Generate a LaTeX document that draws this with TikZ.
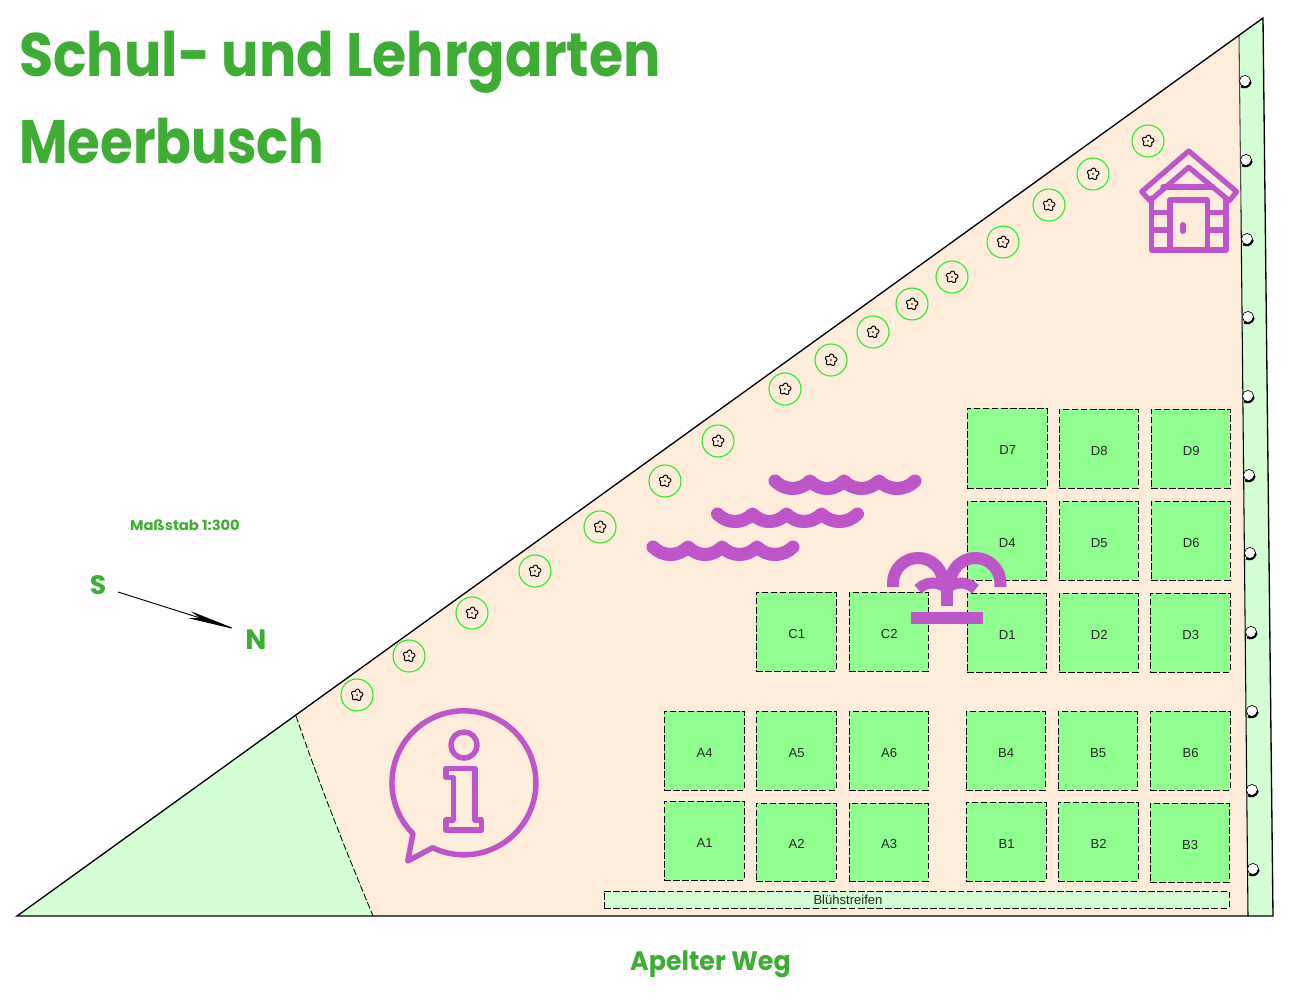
\documentclass[tikz,border=0pt]{standalone}
\usepackage{fontspec}
\usetikzlibrary{arrows.meta}
\setmainfont{Liberation Sans}
\newfontfamily\comicfont{Poppins}
\definecolor{ttl}{HTML}{3DAE33}
\definecolor{purp}{HTML}{BE55C8}
\definecolor{bedg}{HTML}{90FF90}
\definecolor{lightg}{HTML}{D4FFD4}
\definecolor{sand}{HTML}{FFEDDB}
\definecolor{ringg}{HTML}{22EE22}
\newcommand{\bedbox}[5]{%
  \pgfmathsetmacro{\bw}{(#4-#2)*.75}\pgfmathsetmacro{\bh}{(#5-#3)*.75}%
  \node[bed,minimum width=\bw pt,minimum height=\bh pt] (#1) at ({(#2+#4)/2},{(#3+#5)/2}) {\hspace{1pt}\raisebox{-5pt}[0pt][0pt]{#1}};}
\tikzset{
  x=.75pt,y=-.75pt,
  bed/.style={draw=black,fill=bedg,dash pattern=on 5pt off 1.8pt,line width=.62pt,inner sep=0pt,font=\fontsize{9.8pt}{11pt}\selectfont,text=black!85},
  ring/.style={circle,draw=ringg,line width=.8pt,minimum size=24pt,inner sep=0pt},
  pline/.style={draw=purp,line width=3.9pt,line join=round,line cap=round},
  wave/.style={draw=purp,line width=9.8pt,line join=round,line cap=round},
  edge/.style={draw=black,line width=1pt},
  ttext/.style={text=ttl,inner sep=0pt,font=\comicfont\bfseries},
  lobe/.style={draw=black,line width=.75pt},
}
\begin{document}
\begin{tikzpicture}
\useasboundingbox[fill=white] (0,0) rectangle (1290,996);
% ground areas
\fill[lightg] (17,916) -- (296,716) -- (373,916) -- cycle;
\fill[sand] (296,716) -- (1239,36) -- (1248,916) -- (373,916) -- cycle;
\fill[lightg] (1239,36) -- (1263,18) -- (1273,916) -- (1248,916) -- cycle;
\draw[black,line width=.62pt,dash pattern=on 5pt off 1.8pt] (296,716) .. controls (325,800) and (350,860) .. (373,916);
\draw[black!70,line width=.8pt] (1239,36) -- (1241,210);
\draw[black,line width=.8pt] (1241,210) -- (1248,916);
\draw[edge,line join=miter] (17,916) -- (1263,18) -- (1273,916) -- cycle;
% bushes at the edge
\foreach \cx/\cy in {1245/81,1246/160,1247/239,1248/317,1248/396,1249/475,1250/553,1251/632,1252/711,1252/790,1253/869}{
  \fill[white] (\cx,\cy) circle[radius=4.2pt];
  \draw[black,line width=.5pt] (\cx,\cy) circle[radius=4.2pt];
  \draw[black,line width=1.6pt] (\cx-4,\cy+5.3) .. controls (\cx-1,\cy+7) and (\cx+4,\cy+7) .. (\cx+5.8,\cy+1);
}
% flower rings
\foreach \i/\cx/\cy in {1/357/695,2/409/656,3/472/613,4/535/571,5/600/527,6/665/481,7/718/441,8/785/389,9/831/360,10/873/332,11/912/304,12/952/277,13/1003/242,14/1049/205,15/1093/174,16/1148/141}{
  \node[ring] (f\i) at (\cx,\cy) {};
  \draw[lobe,line join=round] plot[samples=61,domain=0:360] ({\cx+(3.9+2*abs(cos(2.5*\x+25)))*cos(\x)},{\cy+(3.9+2*abs(cos(2.5*\x+25)))*sin(\x)}) -- cycle;
  \fill[black!70] (\cx,\cy) circle[radius=.9pt];
}
% beds
\bedbox{D7}{967}{408}{1047}{488}
\bedbox{D8}{1059}{409}{1138}{488}
\bedbox{D9}{1151}{409}{1230}{488}
\bedbox{D4}{967}{501}{1046}{580}
\bedbox{D5}{1059}{501}{1138}{580}
\bedbox{D6}{1151}{501}{1230}{580}
\bedbox{D1}{967}{593}{1046}{672}
\bedbox{D2}{1059}{593}{1138}{672}
\bedbox{D3}{1150}{593}{1230}{672}
\bedbox{C1}{756}{592}{836}{671}
\bedbox{C2}{849}{592}{928}{671}
\bedbox{A4}{664}{711}{744}{790}
\bedbox{A5}{756}{711}{836}{790}
\bedbox{A6}{849}{711}{928}{790}
\bedbox{A1}{664}{801}{744}{880}
\bedbox{A2}{756}{803}{836}{881}
\bedbox{A3}{849}{803}{928}{881}
\bedbox{B4}{966}{711}{1045}{790}
\bedbox{B5}{1058}{711}{1137}{790}
\bedbox{B6}{1150}{711}{1230}{790}
\bedbox{B1}{966}{802}{1046}{881}
\bedbox{B2}{1058}{802}{1138}{881}
\bedbox{B3}{1150}{803}{1229}{882}
\node[bed,fill=lightg,minimum width=468.75pt,minimum height=12.75pt] (strip) at (916.5,899.5) {};
\node[font=\fontsize{9.8pt}{11pt}\selectfont,text=black!85,inner sep=0pt] (striplabel) at (848,899.5) {Blühstreifen};
% waves
\foreach \dx/\dy in {0/0,-57.5/33,-122/66}{
  \draw[wave] (775+\dx,481+\dy) .. controls (785+\dx,491+\dy) and (800+\dx,491+\dy) .. (810+\dx,481+\dy)
   .. controls (820+\dx,491+\dy) and (834+\dx,491+\dy) .. (844+\dx,481+\dy)
   .. controls (854+\dx,491+\dy) and (869+\dx,491+\dy) .. (879+\dx,481+\dy)
   .. controls (889+\dx,491+\dy) and (905+\dx,491+\dy) .. (915+\dx,481+\dy);
}
% fountain
\draw[draw=purp,line width=9pt] (893,587) -- (893,583) arc[start angle=180,end angle=12,radius=18.75pt];
\draw[draw=purp,line width=9pt] (1000.4,587) -- (1000.4,583) arc[start angle=0,end angle=168,radius=18.75pt];
\draw[draw=purp,line width=8.2pt] (918,589.3) arc[start angle=137,end angle=44,radius=15pt];
\draw[draw=purp,line width=8.2pt] (975.4,589.3) arc[start angle=43,end angle=136,radius=15pt];
\fill[purp] (941,570) rectangle (953,606);
\fill[purp] (911,612) rectangle (983,624);
% house
\path[pline] (1188.7,151) -- (1236.7,191.7) -- (1229.3,200.7) -- (1188.7,167.3) -- (1150,200.7) -- (1141.7,191.7) -- cycle;
\path[pline] (1163,187) -- (1213,187);
\path[pline] (1151.7,198) -- (1151.7,250) -- (1226,250) -- (1226,198);
\path[pline] (1170,250) -- (1170,200) -- (1207.3,200) -- (1207.3,250);
\path[pline] (1151.7,212.3) -- (1170,212.3) (1151.7,230) -- (1170,230) (1207.3,212.3) -- (1226,212.3) (1207.3,230) -- (1226,230);
\path[pline,line width=4.5pt] (1182.7,225) -- (1182.7,231);
% info
\draw[pline,line width=4.1pt] (432.7,847.7) arc[start angle=-115.7,end angle=225,radius=54pt] -- (407.7,861) -- cycle;
\draw[pline,line width=4.1pt] (464,745) circle[radius=9.8pt];
\path[pline,line width=4.1pt] (446,768.3) -- (475,768.3) -- (475,820) -- (481.7,820) -- (481.7,830) -- (446,830) -- (446,820) -- (453.3,820) -- (453.3,777.3) -- (446,777.3) -- cycle;
% compass
\coordinate (arrS) at (118,592);
\coordinate (arrN) at (238,630);
\draw[black,line width=.7pt,-{Stealth[length=38pt,width=5.5pt,inset=8pt]}] (arrS) -- (arrN);
% texts
\node[ttext,anchor=base west] (title1) at (19,76) {\scalebox{.904}[1]{\fontsize{46pt}{50pt}\selectfont Schul- und Lehrgarten}};
\node[ttext,anchor=base west] (title2) at (19,163) {\scalebox{.863}[1]{\fontsize{46pt}{50pt}\selectfont Meerbusch}};
\node[ttext] (scale) at (185,525.5) {\scalebox{1.05}[1]{\fontsize{10.5pt}{12pt}\selectfont Maßstab 1:300}};
\node[ttext] (S) at (98,585) {\fontsize{20pt}{22pt}\selectfont S};
\node[ttext] (N) at (256,640) {\fontsize{21pt}{22pt}\selectfont N};
\node[ttext] (road) at (710.5,964) {\scalebox{.95}[1]{\fontsize{20pt}{22pt}\selectfont Apelter Weg}};
\end{tikzpicture}
\end{document}
